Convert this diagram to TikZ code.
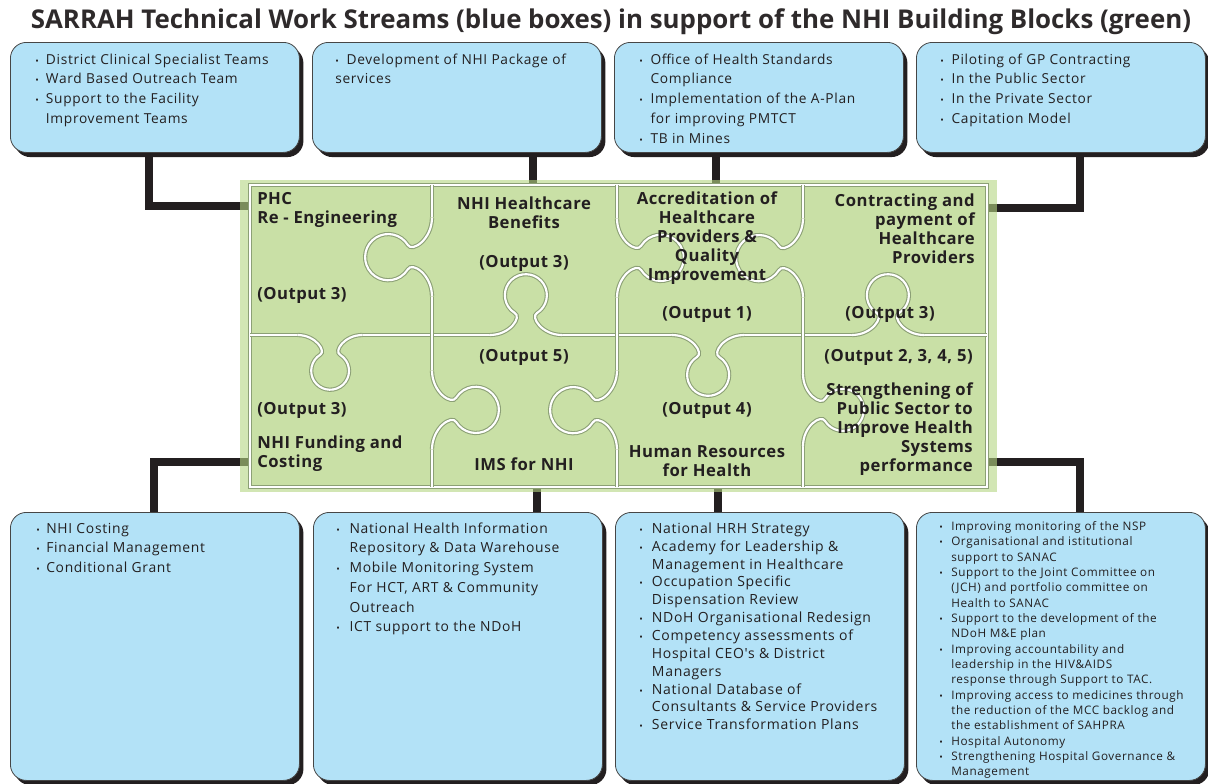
\documentclass[tikz,border=0pt]{standalone}
\usepackage{fontspec}
\setmainfont{Open Sans}
\newfontfamily\headfont{Open Sans}
\newfontfamily\listfont[LetterSpace=5]{Open Sans}
\newfontfamily\blockfont[LetterSpace=3]{Open Sans}
\usetikzlibrary{shadows}

\definecolor{streamblue}{RGB}{179,226,247}
\definecolor{streamline}{RGB}{70,70,70}
\definecolor{piecegreen}{RGB}{201,224,166}
\definecolor{framegreen}{RGB}{180,213,130}
\definecolor{cutshade}{RGB}{140,160,118}
\definecolor{ink}{RGB}{35,31,32}

\newcommand\bul{{\fontsize{7}{7}\selectfont\textbullet}}
\newcommand\wlist[2]{\begin{tabular}{@{}p{#1}@{}l@{}}#2\end{tabular}}

% one jigsaw tab: centre on the edge, direction (0 down, 180 up, 90 right, -90 left)
\newcommand\knob[3][1]{%
  \begin{scope}[shift={#2},rotate=#3,scale=#1]
    \fill[piecegreen] (-36,-3.5) rectangle (36,3.5);
    \draw[cutline] (-36,0) .. controls (-16,0) and (-4,18) .. (-11,22)
      arc[start angle=238,end angle=-58,radius=21]
      .. controls (4,18) and (16,0) .. (36,0);
  \end{scope}}

\tikzset{
  stream/.style={draw=streamline, line width=0.6pt, fill=streamblue,
    rounded corners=12pt, inner sep=0pt, anchor=north west,
    minimum width=216.75pt,
    drop shadow={shadow xshift=3pt, shadow yshift=-3.5pt, opacity=1, fill=ink}},
  toprow/.style={stream, minimum height=82.5pt},
  botrow/.style={stream, minimum height=201pt},
  items/.style={anchor=north west, inner sep=0pt, text=ink},
  block/.style={font=\blockfont\fontsize{12.5}{14.3}\selectfont\bfseries, inner sep=0pt, text=ink},
  link/.style={draw=ink, line width=6pt},
  cutline/.style={draw=cutshade, double=white, double distance=1.6pt, line width=0.8pt},
  headline/.style={font=\headfont\fontsize{19.4}{22}\selectfont\bfseries, text=ink!95, inner sep=0pt}
}

\begin{document}
\begin{tikzpicture}[x=0.75pt, y=-0.75pt]
\useasboundingbox (0,0) rectangle (1208,783);

\node[headline] (title) at (611,22) {SARRAH Technical Work Streams (blue boxes) in support of the NHI Building Blocks (green)};

% blue work stream boxes
\node[toprow] (top1) at (10,42) {};
\node[toprow] (top2) at (312,42) {};
\node[toprow] (top3) at (614,42) {};
\node[toprow] (top4) at (916,42) {};
\node[botrow] (bot1) at (10,512) {};
\node[botrow] (bot2) at (313,512) {};
\node[botrow] (bot3) at (615,512) {};
\node[botrow] (bot4) at (916,512) {};

\node[items, font=\listfont\fontsize{10.3}{14.8}\selectfont] (top1list) at (35,50) {\wlist{8pt}{%
  \bul & District Clinical Specialist Teams\\
  \bul & Ward Based Outreach Team\\
  \bul & Support to the Facility\\
       & Improvement Teams}};
\node[items, font=\listfont\fontsize{10.3}{14.8}\selectfont] (top2list) at (335,50) {\wlist{8.5pt}{%
  \bul & Development of NHI Package of\\
  \multicolumn{2}{@{}l@{}}{services}}};
\node[items, font=\listfont\fontsize{10.3}{14.8}\selectfont] (top3list) at (639,50) {\wlist{8.5pt}{%
  \bul & Office of Health Standards\\
       & Compliance\\
  \bul & Implementation of the A-Plan\\
       & for improving PMTCT\\
  \bul & TB in Mines}};
\node[items, font=\listfont\fontsize{10.3}{14.8}\selectfont] (top4list) at (940,50) {\wlist{8.5pt}{%
  \bul & Piloting of GP Contracting\\
  \bul & In the Public Sector\\
  \bul & In the Private Sector\\
  \bul & Capitation Model}};

\node[items, font=\listfont\fontsize{10.4}{14.8}\selectfont] (bot1list) at (36,519) {\wlist{7.5pt}{%
  \bul & NHI Costing\\
  \bul & Financial Management\\
  \bul & Conditional Grant}};
\node[items, font=\listfont\fontsize{10.4}{14.8}\selectfont] (bot2list) at (336,519) {\wlist{10pt}{%
  \bul & National Health Information\\
       & Repository \& Data Warehouse\\
  \bul & Mobile Monitoring System\\
       & For HCT, ART \& Community\\
       & Outreach\\
  \bul & ICT support to the NDoH}};
\node[items, font=\listfont\fontsize{10.5}{13.4}\selectfont] (bot3list) at (639,520.5) {\wlist{9.5pt}{%
  \bul & National HRH Strategy\\
  \bul & Academy for Leadership \&\\
       & Management in Healthcare\\
  \bul & Occupation Specific\\
       & Dispensation Review\\
  \bul & NDoH Organisational Redesign\\
  \bul & Competency assessments of\\
       & Hospital CEO's \& District\\
       & Managers\\
  \bul & National Database of\\
       & Consultants \& Service Providers\\
  \bul & Service Transformation Plans}};
\node[items, font=\listfont\fontsize{8.8}{11.5}\selectfont] (bot4list) at (939,519.5) {\wlist{9pt}{%
  \bul & Improving monitoring of the NSP\\
  \bul & Organisational and istitutional\\
       & support to SANAC\\
  \bul & Support to the Joint Committee on\\
       & (JCH) and portfolio committee on\\
       & Health to SANAC\\
  \bul & Support to the development of the\\
       & NDoH M\&E plan\\
  \bul & Improving accountability and\\
       & leadership in the HIV\&AIDS\\
       & response through Support to TAC.\\
  \bul & Improving access to medicines through\\
       & the reduction of the MCC backlog and\\
       & the establishment of SAHPRA\\
  \bul & Hospital Autonomy\\
  \bul & Strengthening Hospital Governance \&\\
       & Management}};

% where the links meet the puzzle
\coordinate (phcIn) at (250,206);
\coordinate (benIn) at (533,185);
\coordinate (accIn) at (716,185);
\coordinate (conIn) at (987,208);
\coordinate (funIn) at (250,462);
\coordinate (imsIn) at (537,487);
\coordinate (hrhIn) at (718,487);
\coordinate (strIn) at (987,462);

\draw[link] ([xshift=-4.1pt]top1.south) |- (phcIn);
\draw[link] (top2.south -| benIn) -- (benIn);
\draw[link] (top3.south -| accIn) -- (accIn);
\draw[link] ([xshift=14.6pt]top4.south) |- (conIn);
\draw[link] (funIn) -| ([xshift=-1pt]bot1.north);
\draw[link] (imsIn) -- (bot2.north -| imsIn);
\draw[link] (hrhIn) -- (bot3.north -| hrhIn);
\draw[link] (strIn) -| ([xshift=14.6pt]bot4.north);

% green building blocks
\fill[framegreen, fill opacity=0.6] (240,180) rectangle (997,492);
\fill[piecegreen] (250,185) rectangle (987,487);
\draw[cutline] (250,185) rectangle (987,487);
\draw[cutline] (250,335) -- (987,335);
\foreach \cx in {432,617,803}
  \draw[cutline] (\cx,185) -- (\cx,487);

\knob[1.1]{(432,257)}{-90}
\knob[0.9]{(330,335)}{0}
\knob{(526,335)}{180}
\knob[1.1]{(432,410)}{90}
\knob[1.1]{(617,410)}{-90}
\knob[1.1]{(617,258)}{90}
\knob[1.1]{(803,258)}{-90}
\knob{(708,335)}{0}
\knob{(888,335)}{180}
\knob{(803,410)}{90}

\node[block, anchor=west, align=left] (phc) at (257,210) {PHC\\Re - Engineering};
\node[block, anchor=west] (phcOut) at (257,295) {(Output 3)};
\node[block, align=center] (benefits) at (524,213) {NHI Healthcare\\Benefits};
\node[block] (benefitsOut) at (524,263) {(Output 3)};
\node[block, align=center] (accred) at (707,238) {Accreditation of\\Healthcare\\Providers \&\\Quality\\Improvement};
\node[block] (accredOut) at (707,314) {(Output 1)};
\node[block, anchor=east, align=right] (contract) at (975,229) {Contracting and\\payment of\\Healthcare\\Providers};
\node[block] (contractOut) at (890,314) {(Output 3)};
\node[block, anchor=west] (fundingOut) at (257,410) {(Output 3)};
\node[block, anchor=west, align=left] (funding) at (257,454) {NHI Funding and\\Costing};
\node[block] (imsOut) at (524,357) {(Output 5)};
\node[block] (ims) at (524,464) {IMS for NHI};
\node[block] (hrhOut) at (707,410) {(Output 4)};
\node[block, align=center] (hrh) at (707,461) {Human Resources\\for Health};
\node[block, anchor=east] (strengthOut) at (973,357) {(Output 2, 3, 4, 5)};
\node[block, anchor=east, align=right] (strength) at (973,429) {Strengthening of\\Public Sector to\\Improve Health\\Systems\\performance};
\end{tikzpicture}
\end{document}
